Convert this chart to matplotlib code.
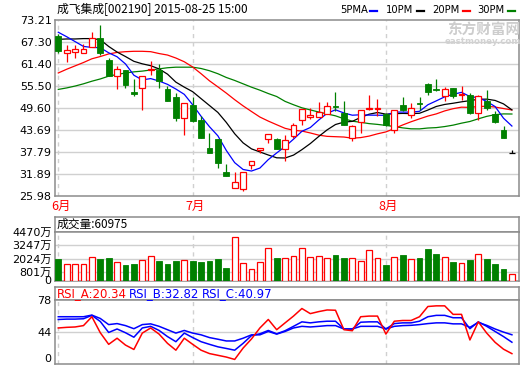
import matplotlib
matplotlib.use('Agg')
import matplotlib.pyplot as plt
import numpy as np
from matplotlib.lines import Line2D
from matplotlib.transforms import blended_transform_factory
from matplotlib.ticker import FixedLocator, FixedFormatter

plt.rcParams['font.family'] = ['DejaVu Sans', 'Noto Sans CJK SC']

# ---------------- data ----------------
opens = [68.7, 64.2, 64.5, 64.2, 65.8, 68.3, 62.5, 58.1, 59.7, 53.9,
         54.8, 59.6, 59.8, 54.5, 52.6, 46.8, 50.2, 46.4, 38.9, 41.1,
         32.3, 28.1, 27.8, 34.3, 38.3, 41.1, 41.2, 38.5, 42.0, 46.3,
         47.1, 47.1, 48.0, 50.1, 48.1, 41.6, 45.9, 49.2, 49.3, 47.9,
         43.6, 50.2, 47.6, 50.9, 56.0, 54.5, 52.7, 54.9, 52.9, 53.1,
         48.1, 51.3, 47.9, 43.7, 37.6]
highs = [69.2, 66.5, 66.5, 66.7, 69.8, 71.8, 62.9, 60.7, 59.8, 57.3,
         58.1, 62.2, 61.3, 55.4, 53.5, 50.9, 52.5, 47.4, 42.9, 41.1,
         34.5, 32.3, 32.3, 35.3, 38.9, 42.7, 41.6, 42.2, 45.6, 49.3,
         49.6, 51.0, 51.1, 53.9, 51.4, 45.1, 49.1, 53.1, 52.0, 48.3,
         49.1, 52.4, 50.9, 52.4, 56.1, 57.4, 55.2, 55.0, 55.4, 53.6,
         53.1, 54.4, 48.7, 44.8, 38.2]
lows = [64.3, 61.8, 62.8, 64.2, 65.8, 63.8, 58.0, 54.5, 54.9, 52.7,
        49.0, 58.3, 54.8, 51.4, 46.1, 42.3, 45.9, 41.4, 37.4, 33.6,
        31.4, 28.1, 27.4, 33.2, 37.6, 40.1, 38.5, 35.3, 41.6, 45.1,
        46.7, 47.0, 48.0, 48.8, 45.1, 40.6, 42.9, 49.0, 47.3, 44.7,
        42.9, 48.8, 46.9, 49.1, 52.9, 54.0, 51.5, 52.3, 51.7, 47.8,
        46.2, 49.1, 45.6, 41.5, 37.6]
closes = [64.7, 65.0, 65.3, 65.4, 68.3, 64.3, 58.2, 60.0, 55.8, 53.2,
          58.0, 60.0, 56.7, 51.4, 46.9, 50.9, 46.0, 41.4, 37.4, 34.7,
          31.4, 29.6, 32.3, 35.3, 38.7, 42.7, 38.5, 40.9, 45.1, 49.3,
          47.7, 48.5, 50.0, 49.7, 45.1, 44.7, 49.1, 49.5, 49.6, 44.9,
          49.1, 49.1, 49.4, 50.7, 53.7, 54.3, 54.5, 52.7, 53.4, 48.1,
          52.7, 49.5, 45.9, 41.5, 37.6]

ma5 = [69.8, 68.6, 67.3, 66.0, 65.74, 65.66, 64.30, 63.24, 61.32, 58.30,
       57.04, 57.40, 56.74, 55.86, 54.60, 53.18, 50.38, 47.32, 44.52, 42.08,
       38.18, 34.90, 33.08, 32.66, 33.46, 35.72, 37.50, 39.22, 41.18, 43.30,
       44.30, 46.30, 48.12, 49.04, 48.20, 47.60, 47.72, 47.62, 47.60, 47.56,
       48.44, 48.44, 48.42, 48.64, 50.40, 51.44, 52.52, 53.18, 53.72, 52.60,
       52.28, 51.28, 49.92, 46.80, 44.70]
ma10 = [67.9, 68.0, 68.0, 68.1, 68.1, 67.8, 66.0, 64.5, 63.3, 62.02,
        61.35, 60.85, 59.99, 58.59, 56.45, 55.11, 53.89, 52.03, 50.19, 48.34,
        45.68, 42.64, 40.20, 38.59, 37.77, 36.95, 36.20, 36.15, 36.92, 38.38,
        40.01, 41.90, 43.67, 45.11, 45.75, 45.95, 47.01, 47.87, 48.32, 47.88,
        48.02, 48.08, 48.02, 48.12, 48.98, 49.94, 50.48, 50.80, 51.18, 51.50,
        51.86, 51.90, 51.55, 50.63, 49.02]
ma20 = [58.9, 59.9, 60.8, 61.7, 62.7, 63.3, 64.0, 64.4, 64.6, 64.7,
        64.7, 64.6, 64.1, 63.7, 62.9, 61.9, 60.5, 58.7, 56.8, 55.18,
        53.52, 51.75, 50.10, 48.59, 47.11, 46.03, 45.05, 44.09, 43.56, 43.36,
        42.85, 42.27, 41.94, 41.85, 41.76, 41.45, 41.61, 42.01, 42.62, 43.13,
        44.02, 44.99, 45.85, 46.62, 47.37, 47.95, 48.75, 49.34, 49.75, 49.69,
        49.94, 49.99, 49.79, 49.38, 49.00]
ma30 = [54.5, 54.9, 55.4, 56.0, 56.7, 57.3, 58.05, 58.5, 58.9, 59.2,
        59.4, 59.7, 60.0, 60.3, 60.45, 60.45, 60.45, 60.1, 59.5, 58.7,
        57.7, 56.9, 56.0, 55.1, 54.3, 53.4, 52.6, 51.3, 50.4, 49.58,
        49.01, 48.46, 47.95, 47.43, 46.66, 46.00, 45.70, 45.35, 45.14, 44.87,
        44.57, 44.21, 43.96, 43.94, 44.17, 44.28, 44.56, 44.94, 45.47, 45.92,
        46.63, 47.29, 47.75, 47.95, 47.92]

volume = [1996, 1562, 1562, 1562, 2124, 1996, 2061, 1749, 1405, 1499,
          1874, 2218, 1780, 1499, 1780, 1874, 1780, 1687, 1780, 1968,
          1156, 4000, 1655, 1031, 1687, 2967, 2061, 2030, 2218, 2967,
          2124, 2218, 2030, 2343, 2061, 2030, 1843, 2780, 2030, 1468,
          2124, 2343, 1936, 2061, 2905, 2436, 2124, 1687, 1655, 1874,
          2405, 1968, 1499, 1031, 560]

rsi_a = [48.4, 49.1, 49.5, 51.0, 60.7, 43.2, 30.5, 37.2, 29.7, 24.9,
         42.8, 48.4, 41.7, 31.6, 24.1, 37.2, 30.5, 24.1, 20.4, 18.5,
         16.6, 14.0, 26.4, 36.4, 48.4, 57.7, 46.5, 54.0, 61.4, 69.7,
         64.1, 66.3, 68.1, 67.8, 46.5, 45.4, 60.7, 61.4, 61.4, 41.7,
         55.8, 56.6, 56.6, 60.7, 71.9, 72.6, 72.6, 63.3, 63.3, 35.3,
         55.1, 42.8, 32.7, 25.2, 20.34]
rsi_b = [57.7, 58.1, 58.1, 58.5, 62.2, 55.5, 43.5, 47.3, 43.2, 38.3,
         48.4, 50.2, 45.7, 39.0, 33.4, 42.8, 37.9, 33.4, 30.5, 27.8,
         26.0, 24.1, 31.6, 40.1, 42.0, 45.7, 42.0, 45.4, 50.2, 55.1,
         54.0, 55.1, 55.8, 55.8, 47.3, 47.3, 54.7, 55.1, 55.1, 47.3,
         53.2, 54.0, 54.0, 55.8, 60.7, 62.2, 62.2, 59.6, 59.6, 47.6,
         55.1, 50.2, 44.6, 39.0, 32.82]
rsi_c = [60.7, 60.7, 60.7, 60.7, 62.5, 58.8, 52.1, 53.2, 51.0, 47.6,
         52.1, 52.9, 50.2, 46.5, 42.8, 45.7, 42.8, 40.9, 37.9, 36.1,
         34.2, 34.2, 37.2, 40.9, 40.9, 44.6, 41.7, 44.6, 48.4, 50.2,
         49.5, 50.2, 51.0, 51.0, 47.3, 47.3, 50.2, 50.2, 50.2, 47.3,
         50.2, 51.0, 51.3, 52.1, 53.2, 54.0, 54.0, 52.9, 52.9, 49.1,
         54.5, 51.3, 47.3, 43.9, 40.97]

price_ticks = [25.98, 31.89, 37.79, 43.69, 49.60, 55.50, 61.40, 67.30, 73.21]
vol_ticks = [0, 801, 2024, 3247, 4470]
rsi_tick_labels = ['0', '44', '78']
month_labels = ['6月', '7月', '8月']
month_start_idx = [0, 16, 39]
title = '成飞集成[002190] 2015-08-25 15:00'
vol_title = '成交量:60975'
rsi_titles = ['RSI_A:20.34', 'RSI_B:32.82', 'RSI_C:40.97']
ma_labels = ['5PMA', '10PM', '20PM', '30PM']

# ---------------- style ----------------
W, H = 520, 365
FRAME = '#8c8c8c'
GRID = '#d0d0d0'
RED = '#ff0000'
GREEN = '#008000'
BLUE = '#0000ff'
CJK = ['Noto Sans CJK SC', 'DejaVu Sans']

fig = plt.figure(figsize=(W / 100, H / 100), dpi=100)
fig.patch.set_facecolor('white')


def rect(x0, y0, x1, y1):
    return [x0 / W, 1 - y1 / H, (x1 - x0) / W, (y1 - y0) / H]


def fxy(x, y):
    return x / W, 1 - y / H


def frame(a):
    for s in a.spines.values():
        s.set_color(FRAME)
        s.set_linewidth(1.1)


n = len(closes)
idx = np.arange(n)
xlim = (-0.39, n - 1 + 0.88)
bw = 0.7

# ---------------- main price panel ----------------
ax = fig.add_axes(rect(55, 19.5, 519.3, 196))
ax.set_xlim(*xlim)
ax.set_ylim(price_ticks[0], price_ticks[-1])
frame(ax)
ax.set_xticks([])
ax.yaxis.set_major_locator(FixedLocator(price_ticks))
ax.yaxis.set_major_formatter(FixedFormatter([f'{t:.2f}' for t in price_ticks]))
ax.tick_params(axis='y', length=0, pad=2.5, labelsize=8)
for t in price_ticks[1:-1]:
    ax.axhline(t, color=GRID, lw=1, zorder=0)
for m in month_start_idx:
    ax.axvline(m, color=GRID, lw=1, ls=(0, (3, 3)), zorder=0)

ax.plot(idx, ma30, color=GREEN, lw=0.9, zorder=2)
ax.plot(idx, ma20, color=RED, lw=0.9, zorder=2)
ax.plot(idx, ma10, color='black', lw=0.9, zorder=2)
ax.plot(idx, ma5, color=BLUE, lw=0.9, zorder=2)

for i in range(n):
    o, h, l, c = opens[i], highs[i], lows[i], closes[i]
    if c > o:
        ax.vlines(i, c, h, color=RED, lw=0.9, zorder=3)
        ax.vlines(i, l, o, color=RED, lw=0.9, zorder=3)
        ax.bar(i, c - o, bottom=o, width=bw, facecolor='white',
               edgecolor=RED, lw=0.9, zorder=4)
    elif c < o:
        ax.vlines(i, l, h, color=GREEN, lw=0.9, zorder=3)
        ax.bar(i, o - c, bottom=c, width=bw, facecolor=GREEN,
               edgecolor=GREEN, lw=0.6, zorder=4)
    else:
        ax.vlines(i, l, h, color='black', lw=0.9, zorder=3)
        ax.hlines(o, i - bw / 2, i + bw / 2, color='black', lw=0.9, zorder=4)

# month labels under main panel
tr = blended_transform_factory(ax.transData, fig.transFigure)
for m, lab in zip(month_start_idx, month_labels):
    ax.text(m + 0.3, fxy(0, 206.5)[1], lab, transform=tr, color=RED,
            fontsize=9, ha='center', va='center', family=CJK)

# header and legend
fig.text(*fxy(57, 10), title, fontsize=8.5, ha='left', va='center', family=CJK)
leg_x = [340, 386, 432, 477]
leg_dash = [(370, 377, BLUE), (417, 424, 'black'), (463, 470, RED), (508, 515, GREEN)]
for lx, lab, (d0, d1, col) in zip(leg_x, ma_labels, leg_dash):
    fig.text(*fxy(lx, 10), lab, fontsize=7.2, ha='left', va='center')
    fig.add_artist(Line2D([d0 / W, d1 / W], [fxy(0, 10.5)[1]] * 2,
                          transform=fig.transFigure, color=col, lw=1.6))

# watermark
fig.text(*fxy(484, 30), '东方财富网', color='#cdcdcd', fontsize=10.5,
         weight='bold', ha='center', va='center', family=CJK)
fig.text(*fxy(483, 41.5), 'eastmoney.com', color='#d2d2d2', fontsize=6.2,
         weight='bold', ha='center', va='center')

# ---------------- volume panel ----------------
axvt = fig.add_axes(rect(55, 216.5, 519.3, 232))
axvt.set_xticks([])
axvt.set_yticks([])
frame(axvt)
fig.text(*fxy(57, 224), vol_title, fontsize=8.5, ha='left', va='center', family=CJK)

axv = fig.add_axes(rect(55, 232, 519.3, 280.5))
axv.set_xlim(*xlim)
axv.set_ylim(vol_ticks[0], vol_ticks[-1])
frame(axv)
axv.set_xticks([])
axv.yaxis.set_major_locator(FixedLocator(vol_ticks))
axv.yaxis.set_major_formatter(FixedFormatter([f'{v}万' if v else '0' for v in vol_ticks]))
axv.tick_params(axis='y', length=0, pad=2.5, labelsize=8)
for t in vol_ticks[1:-1]:
    axv.axhline(t, color=GRID, lw=1, zorder=0)
for m in month_start_idx:
    axv.axvline(m, color=GRID, lw=1, ls=(0, (3, 3)), zorder=0)
vol = np.array(volume)
up = np.array(closes) >= np.array(opens)
axv.bar(idx[up], vol[up], width=bw, facecolor='white', edgecolor=RED, lw=0.9, zorder=3)
axv.bar(idx[~up], vol[~up], width=bw, facecolor=GREEN, edgecolor=GREEN, lw=0.6, zorder=3)

# ---------------- RSI panel ----------------
axrt = fig.add_axes(rect(55, 287, 519.3, 300))
axrt.set_xticks([])
axrt.set_yticks([])
frame(axrt)
for x, txt, col in zip([57, 129, 202], rsi_titles, [RED, BLUE, BLUE]):
    fig.text(*fxy(x, 293.5), txt, fontsize=8.5, color=col, ha='left', va='center')

axr = fig.add_axes(rect(55, 300, 519.3, 364))
axr.set_xlim(*xlim)
axr.set_ylim(9, 79)
frame(axr)
axr.set_xticks([])
axr.yaxis.set_major_locator(FixedLocator([9, 44, 79]))
axr.yaxis.set_major_formatter(FixedFormatter(rsi_tick_labels))
axr.tick_params(axis='y', length=0, pad=2.5, labelsize=8)
axr.axhline(44, color=GRID, lw=1, zorder=0)
for m in month_start_idx:
    axr.axvline(m, color=GRID, lw=1, ls=(0, (3, 3)), zorder=0)
axr.plot(idx, rsi_c, color=BLUE, lw=1.1, zorder=2)
axr.plot(idx, rsi_b, color=BLUE, lw=1.1, zorder=2)
axr.plot(idx, rsi_a, color=RED, lw=1.1, zorder=3)

fig.canvas.draw()
axr.get_yticklabels()[0].set_va('bottom')

fig.savefig('out.png', dpi=100)
